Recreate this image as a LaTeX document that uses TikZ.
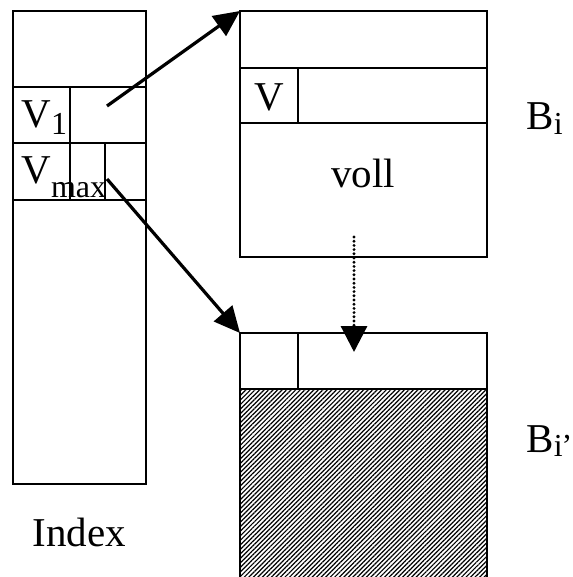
\documentclass[tikz,border=0pt]{standalone}
\usepackage{fontspec}
\setmainfont{Liberation Serif}
\usepackage{tikz}
\usetikzlibrary{arrows.meta,patterns.meta}

\newcommand{\lowsub}[2]{\raisebox{-#1}{\fontsize{16}{18}\selectfont #2}}

\begin{document}
\begin{tikzpicture}[
    x=0.5pt, y=-0.5pt,
    lbl/.style={anchor=base west, inner sep=0pt, font=\fontsize{20.5}{24}\selectfont},
    box/.style={line width=0.8pt},
    parrow/.style={-{Triangle[length=13pt,width=12pt]}, line width=1.6pt},
    darrow/.style={-{Triangle[length=13pt,width=13pt]}, line width=1.6pt,
                   dash pattern=on 0pt off 2.1pt, line cap=round}
]
\useasboundingbox (0,0) rectangle (572,577);
% --- Index column ---
\draw[box] (13,11) rectangle (146,484);
\foreach \y in {87,143,200} {
    \draw[box] (13,\y) -- (146,\y);
}
\draw[box] (70,87) -- (70,200);
\draw[box] (105,143) -- (105,200);
\node[lbl] (v1)   at (21,128) {V\lowsub{3.5pt}{1}};
\node[lbl] (vmax) at (21,184) {V\lowsub{7pt}{max}};
\node[lbl] (idx)  at (32,546) {Index};
% --- Block B_i (full) ---
\draw[box] (240,11) rectangle (487,257);
\draw[box] (240,68) -- (487,68);
\draw[box] (240,123) -- (487,123);
\draw[box] (298,68) -- (298,123);
\node[lbl] (vb)   at (254,111) {V};
\node[lbl, anchor=base] (voll) at (363,187) {voll};
\node[lbl] (bi)   at (526,130) {B\lowsub{2.5pt}{i}};
% --- Block B_i' (new) ---
\fill[pattern={Lines[angle=45,distance=1.6pt,line width=0.6pt]}] (240,389) rectangle (487,577);
\draw[box] (240,577) -- (240,333) -- (487,333) -- (487,577);
\draw[box] (240,389) -- (487,389);
\draw[box] (298,333) -- (298,389);
\node[lbl] (bii)  at (526,452) {B\lowsub{2pt}{i\kern-0.5pt’}};
% --- Connectors ---
\coordinate (p1)   at (107,106);
\coordinate (pmax) at (107,179);
\coordinate (blk)  at (240,11);
\coordinate (nblk) at (240,333);
\coordinate (full) at (354,237);
\coordinate (free) at (354,352);
\draw[parrow] (p1) -- (blk);
\draw[parrow] (pmax) -- (nblk);
\draw[darrow] (full) -- (free);
\end{tikzpicture}
\end{document}
